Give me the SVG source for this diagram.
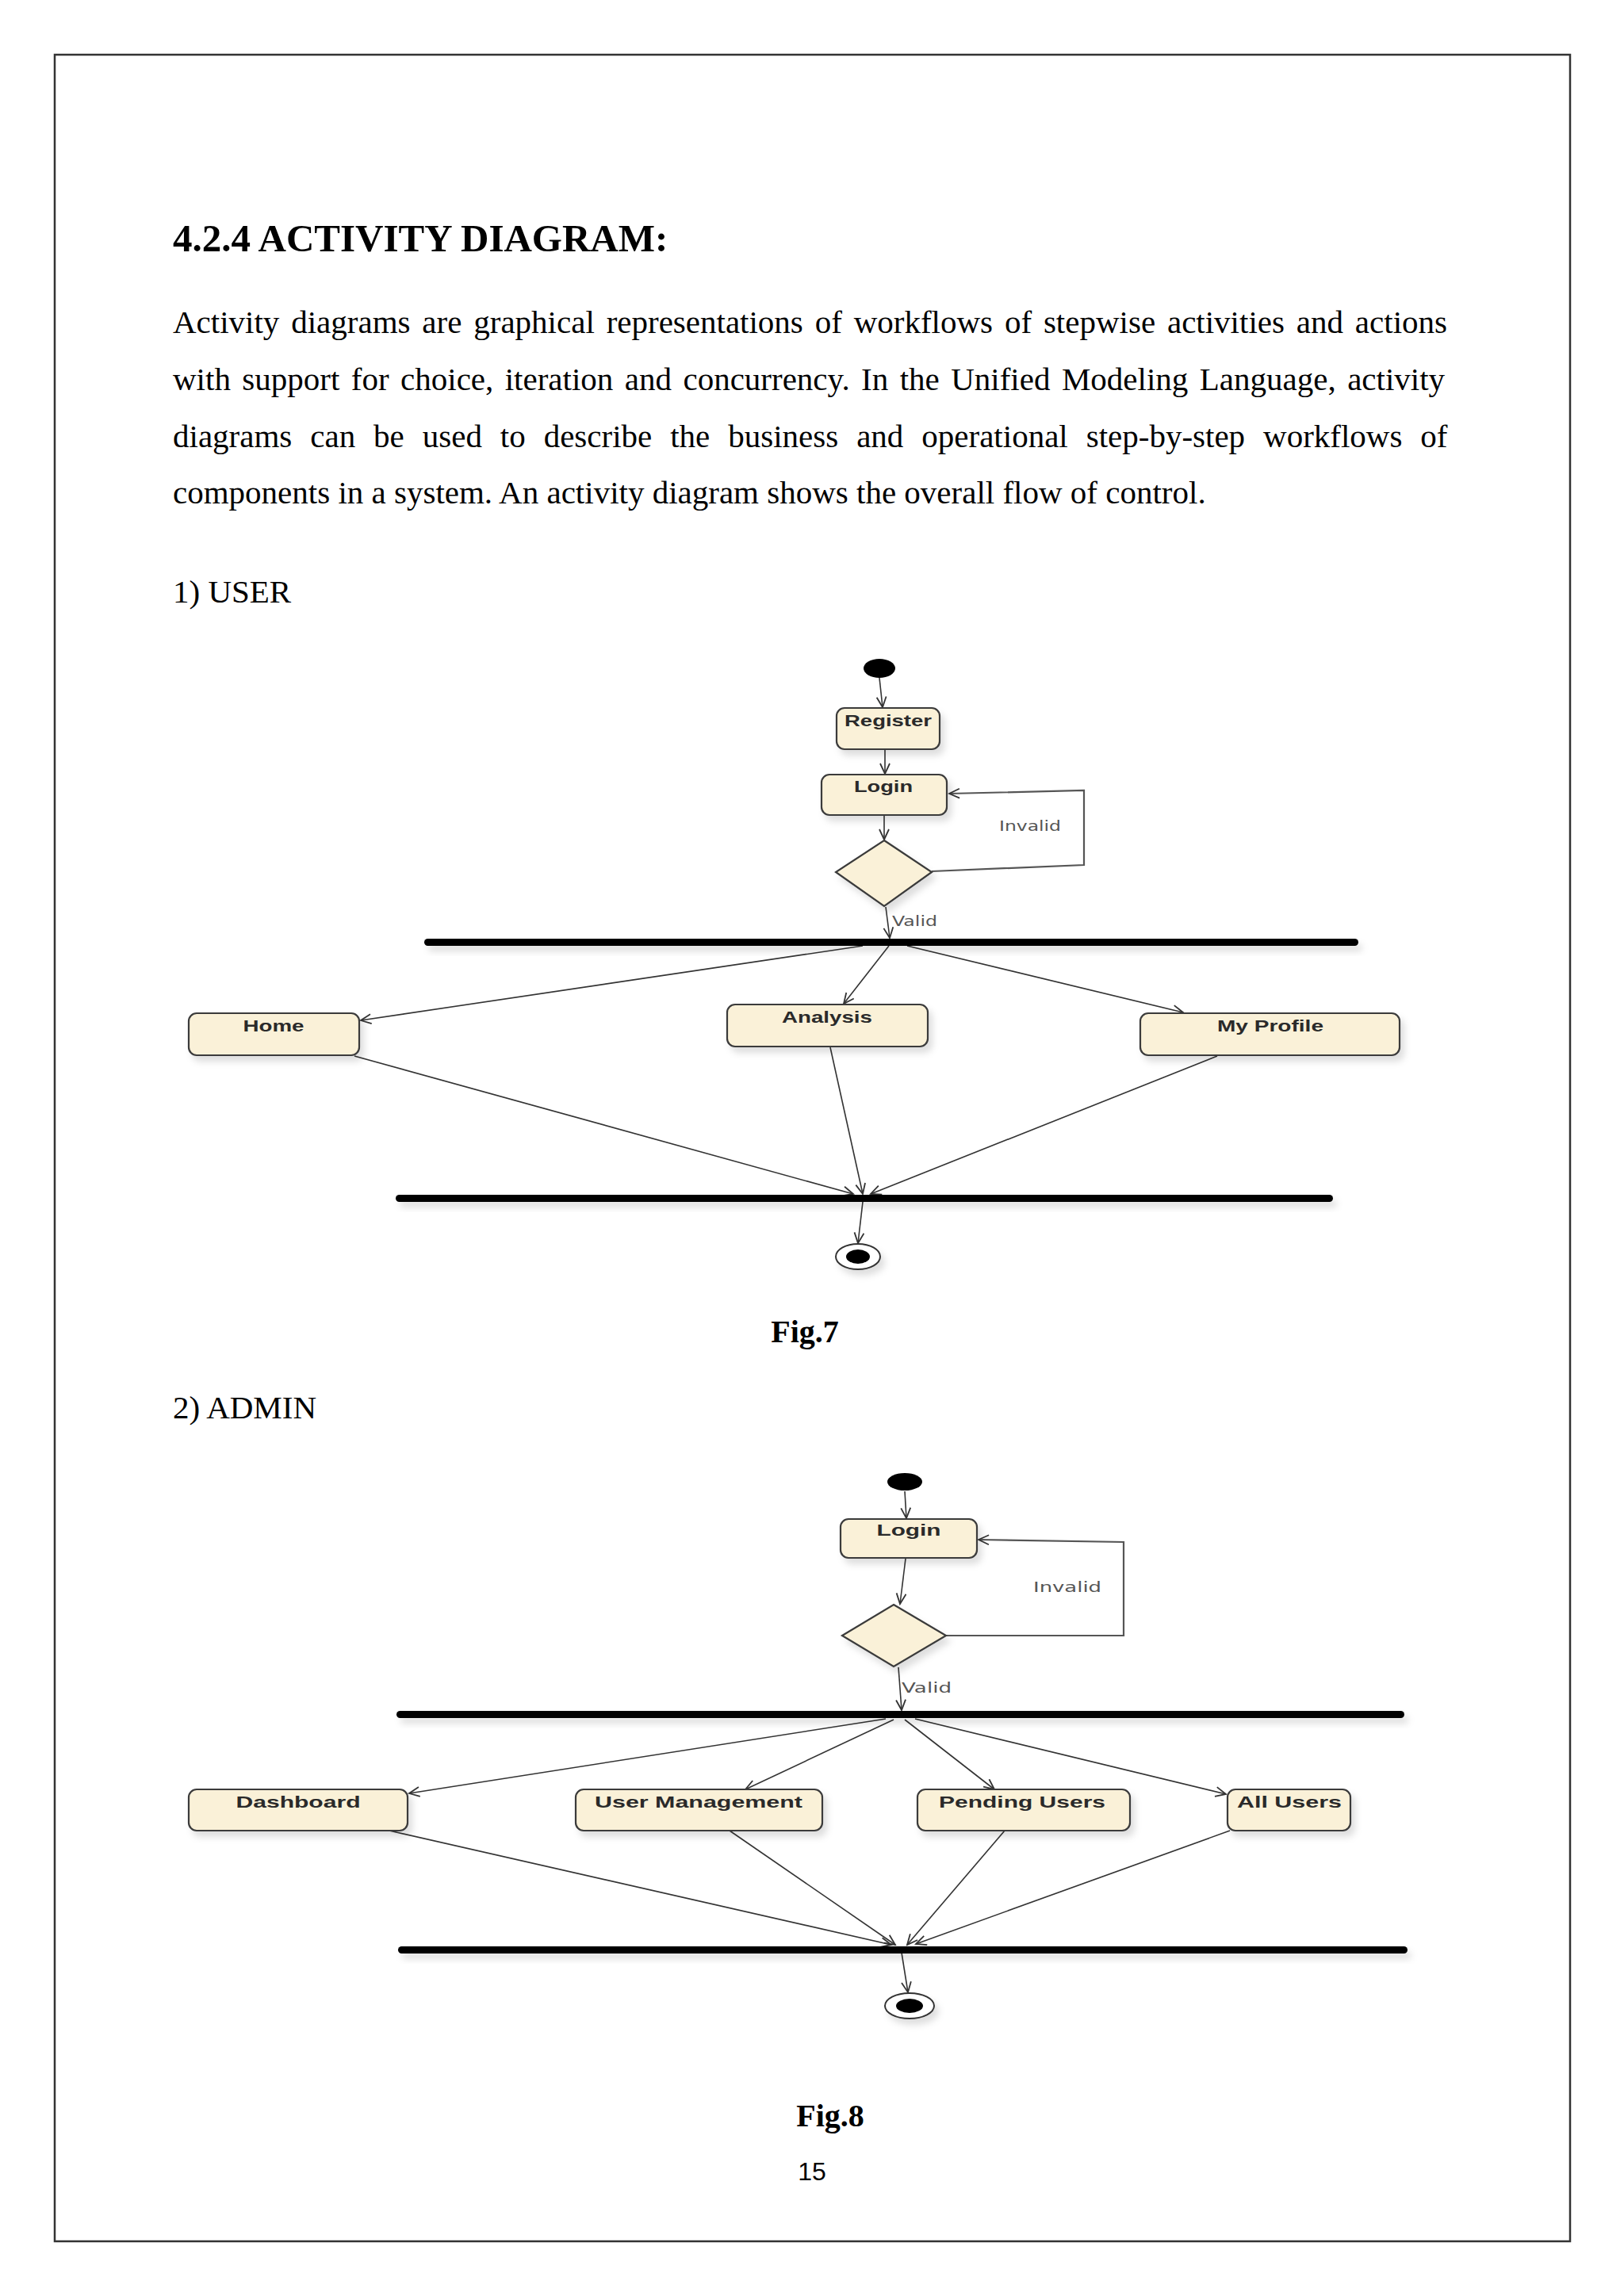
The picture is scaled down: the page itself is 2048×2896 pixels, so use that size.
<svg xmlns="http://www.w3.org/2000/svg" width="2048" height="2896" viewBox="0 0 2048 2896">
<style>
.body{font-family:"Liberation Serif","Times New Roman",serif;font-size:41px;fill:#000}
.head{font-family:"Liberation Serif","Times New Roman",serif;font-size:49px;font-weight:bold;fill:#000}
.fig{font-family:"Liberation Serif","Times New Roman",serif;font-size:40px;font-weight:bold;fill:#000}
.pg{font-family:"Liberation Sans",Arial,sans-serif;font-size:32px;fill:#000}
.box{fill:#FAF1D8;stroke:#3a3a3a;stroke-width:2.2}
.lbl{font-family:"Liberation Sans",Arial,sans-serif;font-size:21px;font-weight:bold;fill:#2a2a2a;text-anchor:middle}
.grd{font-family:"DejaVu Sans","Liberation Sans",sans-serif;font-size:18px;fill:#555}
.c{fill:none;stroke:#333;stroke-width:1.6}
.cl{fill:none;stroke:#555;stroke-width:2.2}
.bar{fill:#000}
</style>
<defs>
<marker id="arr" markerUnits="userSpaceOnUse" markerWidth="16" markerHeight="16" refX="14" refY="7" orient="auto">
<path d="M1,1 L14,7 L1,13" fill="none" stroke="#333" stroke-width="1.8"/>
</marker>
<filter id="sh" x="-20%" y="-60%" width="150%" height="300%">
<feDropShadow dx="5" dy="7" stdDeviation="4" flood-color="#000" flood-opacity="0.13"/>
</filter>
</defs>
<rect x="69" y="69" width="1911" height="2758" fill="none" stroke="#333" stroke-width="2.5"/>
<text class="head" x="218" y="317">4.2.4 ACTIVITY DIAGRAM:</text>
<text class="body" x="218" y="420" word-spacing="4.6">Activity diagrams are graphical representations of workflows of stepwise activities and actions</text>
<text class="body" x="218" y="492" word-spacing="4.2">with support for choice, iteration and concurrency. In the Unified Modeling Language, activity</text>
<text class="body" x="218" y="564" word-spacing="12.7">diagrams can be used to describe the business and operational step-by-step workflows of</text>
<text class="body" x="218" y="635">components in a system. An activity diagram shows the overall flow of control.</text>
<text class="body" x="218" y="760">1) USER</text>
<text class="fig" x="1015" y="1693" text-anchor="middle">Fig.7</text>
<text class="body" x="218" y="1789">2) ADMIN</text>
<text class="fig" x="1047" y="2682" text-anchor="middle">Fig.8</text>
<text class="pg" x="1024" y="2750" text-anchor="middle">15</text>

<g id="fig7-connectors">
<line class="c" x1="1109" y1="855" x2="1113" y2="892" marker-end="url(#arr)"/>
<line class="c" x1="1116" y1="946" x2="1116" y2="976" marker-end="url(#arr)"/>
<line class="c" x1="1115" y1="1029" x2="1115" y2="1059" marker-end="url(#arr)"/>
<polyline class="cl" points="1175,1099 1367,1091 1367,997 1197,1001" marker-end="url(#arr)"/>
<line class="c" x1="1117" y1="1144" x2="1122" y2="1183" marker-end="url(#arr)"/>
<text class="grd" x="1125" y="1168" textLength="57" lengthAdjust="spacingAndGlyphs">Valid</text>
<text class="grd" x="1260" y="1048" textLength="78" lengthAdjust="spacingAndGlyphs">Invalid</text>
<line class="c" x1="1088" y1="1193" x2="455" y2="1287" marker-end="url(#arr)"/>
<line class="c" x1="1121" y1="1193" x2="1064" y2="1266" marker-end="url(#arr)"/>
<line class="c" x1="1144" y1="1193" x2="1492" y2="1277" marker-end="url(#arr)"/>
<line class="c" x1="447" y1="1332" x2="1076" y2="1506" marker-end="url(#arr)"/>
<line class="c" x1="1047" y1="1321" x2="1088" y2="1506" marker-end="url(#arr)"/>
<line class="c" x1="1535" y1="1332" x2="1098" y2="1506" marker-end="url(#arr)"/>
<line class="c" x1="1088" y1="1516" x2="1082" y2="1568" marker-end="url(#arr)"/>
</g>

<g id="fig7-start"><ellipse cx="1109" cy="843" rx="20" ry="12" fill="#000"/></g>
<g id="fig7-register"><rect class="box" x="1055" y="893" width="130" height="52" rx="10" filter="url(#sh)"/><text class="lbl" x="1120" y="916" textLength="110" lengthAdjust="spacingAndGlyphs">Register</text></g>
<g id="fig7-login"><rect class="box" x="1036" y="977" width="158" height="51" rx="10" filter="url(#sh)"/><text class="lbl" x="1114" y="999" textLength="74" lengthAdjust="spacingAndGlyphs">Login</text></g>
<g id="fig7-decision"><polygon class="box" points="1115,1060 1175,1100 1115,1143 1054,1100" filter="url(#sh)"/></g>
<g id="fig7-fork"><rect class="bar" x="535" y="1184" width="1178" height="9" rx="4.5" filter="url(#sh)"/></g>
<g id="fig7-home"><rect class="box" x="238" y="1278" width="215" height="53" rx="10" filter="url(#sh)"/><text class="lbl" x="345" y="1301" textLength="77" lengthAdjust="spacingAndGlyphs">Home</text></g>
<g id="fig7-analysis"><rect class="box" x="917" y="1267" width="253" height="53" rx="10" filter="url(#sh)"/><text class="lbl" x="1043" y="1290" textLength="114" lengthAdjust="spacingAndGlyphs">Analysis</text></g>
<g id="fig7-profile"><rect class="box" x="1438" y="1278" width="327" height="53" rx="10" filter="url(#sh)"/><text class="lbl" x="1602" y="1301" textLength="134" lengthAdjust="spacingAndGlyphs">My Profile</text></g>
<g id="fig7-join"><rect class="bar" x="499" y="1507" width="1182" height="9" rx="4.5" filter="url(#sh)"/></g>
<g id="fig7-end" filter="url(#sh)"><ellipse cx="1082" cy="1585" rx="28" ry="16" fill="#fff" stroke="#333" stroke-width="2"/><ellipse cx="1082" cy="1585" rx="15" ry="9" fill="#000"/></g>

<g id="fig8-connectors">
<line class="c" x1="1141" y1="1881" x2="1143" y2="1915" marker-end="url(#arr)"/>
<line class="c" x1="1142" y1="1966" x2="1135" y2="2023" marker-end="url(#arr)"/>
<polyline class="cl" points="1193,2063 1417,2063 1417,1945 1234,1942" marker-end="url(#arr)"/>
<line class="c" x1="1133" y1="2103" x2="1137" y2="2157" marker-end="url(#arr)"/>
<text class="grd" x="1137" y="2135" textLength="63" lengthAdjust="spacingAndGlyphs">Valid</text>
<text class="grd" x="1303" y="2008" textLength="86" lengthAdjust="spacingAndGlyphs">Invalid</text>
<line class="c" x1="1117" y1="2168" x2="516" y2="2262" marker-end="url(#arr)"/>
<line class="c" x1="1127" y1="2169" x2="940" y2="2257" marker-end="url(#arr)"/>
<line class="c" x1="1141" y1="2169" x2="1254" y2="2257" marker-end="url(#arr)"/>
<line class="c" x1="1154" y1="2168" x2="1546" y2="2263" marker-end="url(#arr)"/>
<line class="c" x1="491" y1="2309" x2="1124" y2="2453" marker-end="url(#arr)"/>
<line class="c" x1="920" y1="2309" x2="1129" y2="2453" marker-end="url(#arr)"/>
<line class="c" x1="1267" y1="2309" x2="1144" y2="2453" marker-end="url(#arr)"/>
<line class="c" x1="1551" y1="2309" x2="1155" y2="2452" marker-end="url(#arr)"/>
<line class="c" x1="1137" y1="2463" x2="1145" y2="2513" marker-end="url(#arr)"/>
</g>

<g id="fig8-start"><ellipse cx="1141" cy="1869" rx="22" ry="11" fill="#000"/></g>
<g id="fig8-login"><rect class="box" x="1060" y="1916" width="172" height="49" rx="10" filter="url(#sh)"/><text class="lbl" x="1146" y="1937" textLength="81" lengthAdjust="spacingAndGlyphs">Login</text></g>
<g id="fig8-decision"><polygon class="box" points="1127,2024 1193,2063 1127,2102 1062,2063" filter="url(#sh)"/></g>
<g id="fig8-fork"><rect class="bar" x="500" y="2158" width="1271" height="9" rx="4.5" filter="url(#sh)"/></g>
<g id="fig8-dashboard"><rect class="box" x="238" y="2257" width="276" height="52" rx="10" filter="url(#sh)"/><text class="lbl" x="376" y="2280" textLength="157" lengthAdjust="spacingAndGlyphs">Dashboard</text></g>
<g id="fig8-usermgmt"><rect class="box" x="726" y="2257" width="311" height="52" rx="10" filter="url(#sh)"/><text class="lbl" x="881" y="2280" textLength="262" lengthAdjust="spacingAndGlyphs">User Management</text></g>
<g id="fig8-pending"><rect class="box" x="1157" y="2257" width="268" height="52" rx="10" filter="url(#sh)"/><text class="lbl" x="1289" y="2280" textLength="210" lengthAdjust="spacingAndGlyphs">Pending Users</text></g>
<g id="fig8-allusers"><rect class="box" x="1548" y="2257" width="155" height="52" rx="10" filter="url(#sh)"/><text class="lbl" x="1626" y="2280" textLength="132" lengthAdjust="spacingAndGlyphs">All Users</text></g>
<g id="fig8-join"><rect class="bar" x="502" y="2455" width="1273" height="9" rx="4.5" filter="url(#sh)"/></g>
<g id="fig8-end" filter="url(#sh)"><ellipse cx="1147" cy="2530" rx="31" ry="16" fill="#fff" stroke="#333" stroke-width="2"/><ellipse cx="1147" cy="2530" rx="17" ry="9" fill="#000"/></g>
</svg>
